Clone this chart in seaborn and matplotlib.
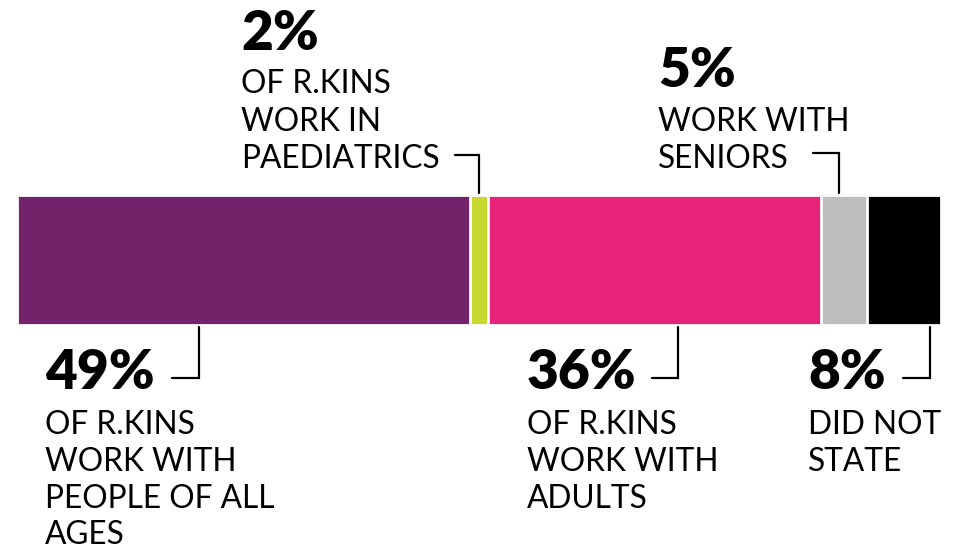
import matplotlib
matplotlib.use("Agg")
import matplotlib.pyplot as plt
import seaborn as sns
import pandas as pd
import numpy as np

# ---- data ----
segments = ["All ages", "Paediatrics", "Adults", "Seniors", "Did not state"]
percent = [49, 2, 36, 5, 8]
colors = ["#73236A", "#C8D630", "#E8237A", "#BEBEBE", "#000000"]
number_labels = ["49%", "2%", "36%", "5%", "8%"]
desc_labels = [
    ["OF R.KINS", "WORK WITH", "PEOPLE OF ALL", "AGES"],
    ["OF R.KINS", "WORK IN", "PAEDIATRICS"],
    ["OF R.KINS", "WORK WITH", "ADULTS"],
    ["WORK WITH", "SENIORS"],
    ["DID NOT", "STATE"],
]

sns.set_theme(style="white")
plt.rcParams["font.family"] = ["Lato", "DejaVu Sans"]

W, H = 965, 548
fig = plt.figure(figsize=(W / 100, H / 100), dpi=100)
fig.patch.set_facecolor("white")

# bar axes (pixel layout)
bx0, bx1, by0, by1 = 17, 941, 195, 325
ax = fig.add_axes([bx0 / W, 1 - by1 / H, (bx1 - bx0) / W, (by1 - by0) / H])

cum = np.cumsum(percent)
df = pd.DataFrame({"seg": segments, "pct": percent, "cum": cum, "row": ["r"] * len(segments)})
# draw cumulative bars from the largest down, so each segment shows through
for i in reversed(range(len(segments))):
    sns.barplot(data=df.iloc[[i]], x="cum", y="row", color=colors[i], width=1.0,
                edgecolor="white", linewidth=2.0, saturation=1, ax=ax, orient="h")
ax.set_xlim(0, cum[-1])
ax.set_ylim(0.5, -0.5)
ax.axis("off")

# overlay axes in pixel coordinates for annotations
ov = fig.add_axes([0, 0, 1, 1])
ov.set_xlim(0, W)
ov.set_ylim(H, 0)
ov.axis("off")

NUM_FS = 39.5
TXT_FS = 22.8
lw = 1.6

def block(x, num_base, lines, line_bases, num):
    ov.text(x, num_base, num, fontsize=NUM_FS, fontweight="heavy", color="black",
            va="baseline", ha="left")
    for t, b in zip(lines, line_bases):
        ov.text(x, b, t, fontsize=TXT_FS, color="black", va="baseline", ha="left")

# 49%
block(45, 389, desc_labels[0], [434, 471, 508, 544], number_labels[0])
ov.plot([172, 199, 199], [378, 378, 327], color="black", lw=lw, solid_joinstyle="miter")
# 2%
block(241, 50, desc_labels[1], [93, 131, 168], number_labels[1])
ov.plot([455, 479, 479], [155, 155, 193], color="black", lw=lw, solid_joinstyle="miter")
# 36%
block(527, 389, desc_labels[2], [434, 471, 508], number_labels[2])
ov.plot([652, 678, 678], [378, 378, 327], color="black", lw=lw, solid_joinstyle="miter")
# 5%
block(658, 87, desc_labels[3], [131, 168], number_labels[3])
ov.plot([813, 839, 839], [153, 153, 193], color="black", lw=lw, solid_joinstyle="miter")
# 8%
block(808, 389, desc_labels[4], [434, 471], number_labels[4])
ov.plot([903, 930, 930], [378, 378, 327], color="black", lw=lw, solid_joinstyle="miter")

fig.savefig("out.png", dpi=100, facecolor="white")
